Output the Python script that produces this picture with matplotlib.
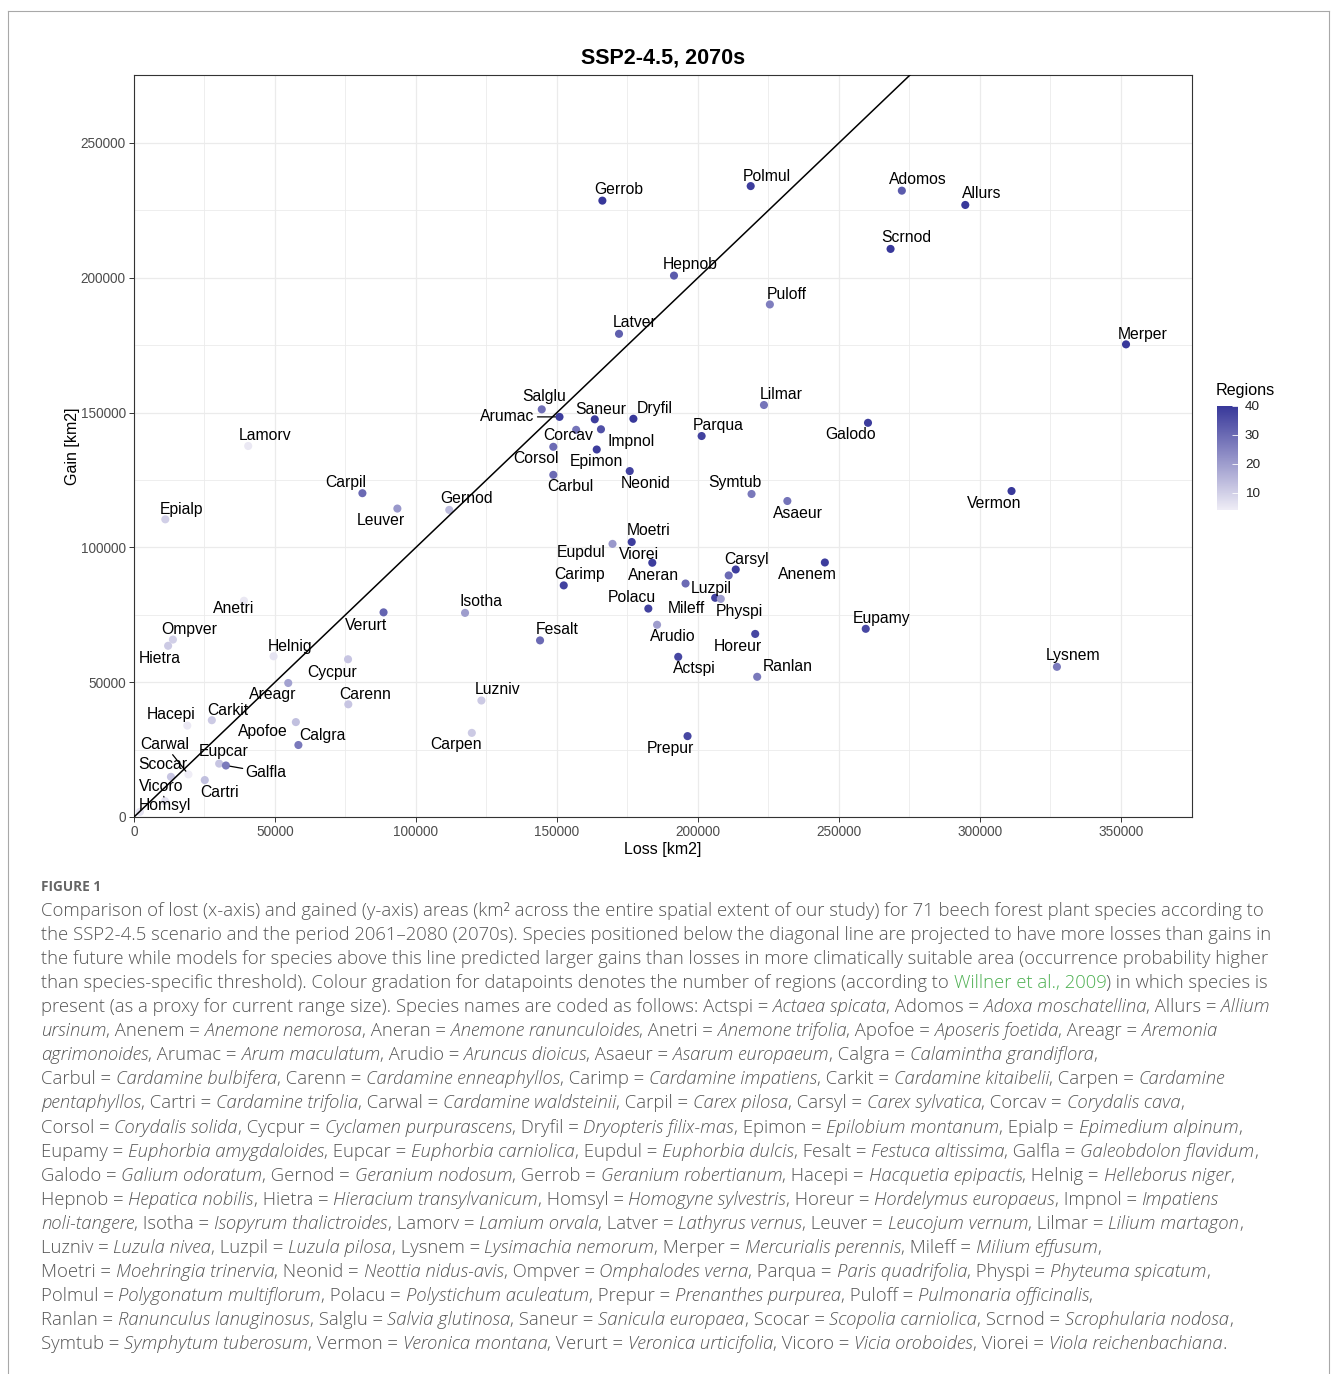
import matplotlib
matplotlib.use("Agg")
import matplotlib.pyplot as plt
import matplotlib.colors as mcolors
from matplotlib.lines import Line2D
import numpy as np

# ---- data (loss / gain in km2, regions = colour) ----
species = ["Actspi", "Adomos", "Allurs", "Anenem", "Aneran", "Anetri", "Apofoe", "Areagr",
           "Arumac", "Arudio", "Asaeur", "Calgra", "Carbul", "Carenn", "Carimp", "Carkit",
           "Carpen", "Cartri", "Carwal", "Carpil", "Carsyl", "Corcav", "Corsol", "Cycpur",
           "Dryfil", "Epimon", "Epialp", "Eupamy", "Eupcar", "Eupdul", "Fesalt", "Galfla",
           "Galodo", "Gernod", "Gerrob", "Hacepi", "Helnig", "Hepnob", "Hietra", "Homsyl",
           "Horeur", "Impnol", "Isotha", "Lamorv", "Latver", "Leuver", "Lilmar", "Luzniv",
           "Luzpil", "Lysnem", "Merper", "Mileff", "Moetri", "Neonid", "Ompver", "Parqua",
           "Physpi", "Polmul", "Polacu", "Prepur", "Puloff", "Ranlan", "Salglu", "Saneur",
           "Scocar", "Scrnod", "Symtub", "Vermon", "Verurt", "Vicoro", "Viorei"]

loss = [193000, 272300, 294800, 245000, 195600, 39000, 57400, 54700,
        150900, 185500, 231700, 58300, 148700, 76000, 152400, 27600,
        119800, 25100, 19300, 81000, 213400, 156800, 148700, 75900,
        177100, 164100, 11100, 259500, 30200, 169700, 144000, 32600,
        260300, 111800, 166100, 18900, 49500, 191500, 12100, 2100,
        220300, 165600, 117400, 40500, 172000, 93400, 223400, 123200,
        210900, 327300, 351800, 206100, 176500, 175800, 13800, 201300,
        208100, 218700, 182400, 196300, 225500, 221000, 144600, 163400,
        13100, 268300, 219000, 311200, 88500, 11000, 183800]

gain = [59400, 232300, 227000, 94400, 86600, 80200, 35200, 49700,
        148400, 71300, 117200, 26700, 126900, 41800, 85900, 35900,
        31200, 13700, 15800, 120100, 91800, 143600, 137300, 58500,
        147700, 136300, 110400, 69800, 19800, 101300, 65500, 19100,
        146200, 113900, 228600, 33900, 59600, 200800, 63500, 1900,
        67900, 143800, 75700, 137600, 179200, 114400, 152800, 43200,
        89600, 55700, 175300, 81300, 102000, 128300, 65800, 141300,
        80900, 234000, 77300, 30000, 190100, 52000, 151200, 147500,
        14900, 210700, 119800, 120900, 75900, 5900, 94300]

regions = [37, 33, 40, 39, 30, 5, 13, 19,
           39, 20, 28, 27, 30, 12, 38, 11,
           11, 13, 4, 30, 39, 28, 30, 12,
           40, 39, 10, 37, 12, 21, 30, 27,
           39, 14, 40, 5, 6, 33, 11, 6,
           37, 35, 20, 5, 32, 21, 28, 11,
           30, 27, 40, 38, 39, 38, 10, 38,
           20, 39, 38, 37, 26, 27, 29, 39,
           12, 40, 27, 40, 31, 6, 39]

x_ticks = [0, 50000, 100000, 150000, 200000, 250000, 300000, 350000]
y_ticks = [0, 50000, 100000, 150000, 200000, 250000]
legend_ticks = [10, 20, 30, 40]

# label placement (offset in pixels from point, like ggrepel) and leader lines
label_offsets = {
    "Actspi": (16, -12), "Adomos": (16, 11), "Allurs": (16, 11), "Anenem": (-17, -12),
    "Aneran": (-32, 8), "Anetri": (-10, -8), "Apofoe": (-33, -9), "Areagr": (-16, -12),
    "Arumac": (-52, 0), "Arudio": (16, -12), "Asaeur": (11, -12), "Calgra": (24, 10),
    "Carbul": (17, -12), "Carenn": (17, 10), "Carimp": (16, 11), "Carkit": (16, 10),
    "Carpen": (-16, -12), "Cartri": (15, -12), "Carwal": (-24, 30), "Carpil": (-17, 11),
    "Carsyl": (11, 10), "Corcav": (-8, -6), "Corsol": (-17, -12), "Cycpur": (-16, -13),
    "Dryfil": (21, 10), "Epimon": (0, -12), "Epialp": (16, 10), "Eupamy": (16, 10),
    "Eupcar": (5, 12), "Eupdul": (-31, -9), "Fesalt": (17, 11), "Galfla": (40, -7),
    "Galodo": (-17, -12), "Gernod": (17, 11), "Gerrob": (16, 11), "Hacepi": (-16, 11),
    "Helnig": (16, 10), "Hepnob": (16, 11), "Hietra": (-8, -13), "Homsyl": (25, 6),
    "Horeur": (-17, -13), "Impnol": (30, -12), "Isotha": (16, 11), "Lamorv": (17, 11),
    "Latver": (16, 11), "Leuver": (-16, -12), "Lilmar": (17, 11), "Luzniv": (16, 11),
    "Luzpil": (-17, -13), "Lysnem": (16, 11), "Merper": (17, 10), "Mileff": (-29, -11),
    "Moetri": (17, 11), "Neonid": (16, -12), "Ompver": (16, 10), "Parqua": (17, 11),
    "Physpi": (19, -13), "Polmul": (16, 10), "Polacu": (-17, 11), "Prepur": (-17, -12),
    "Puloff": (17, 10), "Ranlan": (31, 10), "Salglu": (2, 13), "Saneur": (6, 10),
    "Scocar": (-8, 12), "Scrnod": (16, 11), "Symtub": (-17, 11), "Vermon": (-17, -12),
    "Verurt": (-17, -13), "Vicoro": (-4, 15), "Viorei": (-13, 8),
}
with_segment = {"Arumac", "Galfla", "Carwal", "Vicoro"}

caption_lines = [
    "Comparison of lost (x-axis) and gained (y-axis) areas (km\u00b2 across the entire spatial extent of our study) for 71 beech forest plant species according to",
    "the SSP2-4.5 scenario and the period 2061\u20132080 (2070s). Species positioned below the diagonal line are projected to have more losses than gains in",
    "the future while models for species above this line predicted larger gains than losses in more climatically suitable area (occurrence probability higher",
    "than species-specific threshold). Colour gradation for datapoints denotes the number of regions (according to #Willner et al., 2009#) in which species is",
    "present (as a proxy for current range size). Species names are coded as follows: Actspi = *Actaea spicata*, Adomos = *Adoxa moschatellina*, Allurs = *Allium*",
    "*ursinum*, Anenem = *Anemone nemorosa*, Aneran = *Anemone ranunculoides*, Anetri = *Anemone trifolia*, Apofoe = *Aposeris foetida*, Areagr = *Aremonia*",
    "*agrimonoides*, Arumac = *Arum maculatum*, Arudio = *Aruncus dioicus*, Asaeur = *Asarum europaeum*, Calgra = *Calamintha grandiflora*,",
    "Carbul = *Cardamine bulbifera*, Carenn = *Cardamine enneaphyllos*, Carimp = *Cardamine impatiens*, Carkit = *Cardamine kitaibelii*, Carpen = *Cardamine*",
    "*pentaphyllos*, Cartri = *Cardamine trifolia*, Carwal = *Cardamine waldsteinii*, Carpil = *Carex pilosa*, Carsyl = *Carex sylvatica*, Corcav = *Corydalis cava*,",
    "Corsol = *Corydalis solida*, Cycpur = *Cyclamen purpurascens*, Dryfil = *Dryopteris filix-mas*, Epimon = *Epilobium montanum*, Epialp = *Epimedium alpinum*,",
    "Eupamy = *Euphorbia amygdaloides*, Eupcar = *Euphorbia carniolica*, Eupdul = *Euphorbia dulcis*, Fesalt = *Festuca altissima*, Galfla = *Galeobdolon flavidum*,",
    "Galodo = *Galium odoratum*, Gernod = *Geranium nodosum*, Gerrob = *Geranium robertianum*, Hacepi = *Hacquetia epipactis*, Helnig = *Helleborus niger*,",
    "Hepnob = *Hepatica nobilis*, Hietra = *Hieracium transylvanicum*, Homsyl = *Homogyne sylvestris*, Horeur = *Hordelymus europaeus*, Impnol = *Impatiens*",
    "*noli-tangere*, Isotha = *Isopyrum thalictroides*, Lamorv = *Lamium orvala*, Latver = *Lathyrus vernus*, Leuver = *Leucojum vernum*, Lilmar = *Lilium martagon*,",
    "Luzniv = *Luzula nivea*, Luzpil = *Luzula pilosa*, Lysnem = *Lysimachia nemorum*, Merper = *Mercurialis perennis*, Mileff = *Milium effusum*,",
    "Moetri = *Moehringia trinervia*, Neonid = *Neottia nidus-avis*, Ompver = *Omphalodes verna*, Parqua = *Paris quadrifolia*, Physpi = *Phyteuma spicatum*,",
    "Polmul = *Polygonatum multiflorum*, Polacu = *Polystichum aculeatum*, Prepur = *Prenanthes purpurea*, Puloff = *Pulmonaria officinalis*,",
    "Ranlan = *Ranunculus lanuginosus*, Salglu = *Salvia glutinosa*, Saneur = *Sanicula europaea*, Scocar = *Scopolia carniolica*, Scrnod = *Scrophularia nodosa*,",
    "Symtub = *Symphytum tuberosum*, Vermon = *Veronica montana*, Verurt = *Veronica urticifolia*, Vicoro = *Vicia oroboides*, Viorei = *Viola reichenbachiana*.",
]

plt.rcParams['font.family'] = ['Liberation Sans', 'DejaVu Sans']

W, H = 1331, 1374
fig = plt.figure(figsize=(W / 100, H / 100), dpi=100)
fig.patch.set_facecolor("white")


def fx(px):
    return px / W


def fy(py):
    return 1 - py / H


# outer frame of the figure panel
fig.add_artist(Line2D([fx(8), fx(1329)], [fy(10.5), fy(10.5)], color="#a8a8a8", lw=0.8))
fig.add_artist(Line2D([fx(8), fx(8)], [fy(10.5), 0], color="#a8a8a8", lw=0.8))
fig.add_artist(Line2D([fx(1329), fx(1329)], [fy(10.5), 0], color="#a8a8a8", lw=0.8))

# ---- main scatter ----
ax = fig.add_axes([fx(134), fy(817), fx(1192) - fx(134), fy(75) - fy(817)])
cmap = mcolors.LinearSegmentedColormap.from_list("reg", ["#EFEDF6", "#38389A"])
norm = mcolors.Normalize(vmin=min(regions), vmax=max(regions))

ax.set_xlim(0, 375200)
ax.set_ylim(0, 275200)
ax.set_xticks(x_ticks)
ax.set_yticks(y_ticks)
ax.set_xticks(np.arange(25000, 375000, 50000), minor=True)
ax.set_yticks(np.arange(25000, 275000, 50000), minor=True)
ax.set_xticklabels([str(v) for v in x_ticks])
ax.set_yticklabels([str(v) for v in y_ticks])
ax.grid(which="major", color="#EBEBEB", lw=0.9, zorder=0)
ax.grid(which="minor", color="#EBEBEB", lw=0.6, zorder=0)
ax.set_axisbelow(True)
ax.tick_params(which="major", length=3.5, width=0.7, color="#333333",
               labelsize=9.8, labelcolor="#4D4D4D", pad=2.5)
ax.tick_params(which="minor", length=0)
for sp in ax.spines.values():
    sp.set_color("#333333")
    sp.set_linewidth(0.8)

ax.scatter(loss, gain, c=regions, cmap=cmap, norm=norm, s=34, edgecolors="none", zorder=3)
ax.axline((0, 0), slope=1, color="black", lw=1.1, zorder=4)

for name, xv, yv in zip(species, loss, gain):
    dx, dy = label_offsets[name]
    arrow = None
    if name in with_segment:
        arrow = dict(arrowstyle="-", color="black", lw=0.9, shrinkA=0, shrinkB=3)
    ax.annotate(name, (xv, yv), xytext=(dx, dy), textcoords="offset pixels",
                ha="center", va="center", fontsize=11.3, color="black",
                arrowprops=arrow, zorder=5)

ax.set_title("SSP2-4.5, 2070s", fontsize=15.5, fontweight="bold", pad=8)
ax.set_xlabel("Loss [km2]", fontsize=11.5, labelpad=2)
ax.set_ylabel("Gain [km2]", fontsize=11.5, labelpad=0.5)

# ---- colour legend ----
cax = fig.add_axes([fx(1217), fy(510), fx(21), fy(406) - fy(510)])
sm = plt.cm.ScalarMappable(norm=norm, cmap=cmap)
cb = fig.colorbar(sm, cax=cax, ticks=legend_ticks)
cb.outline.set_visible(False)
cax.tick_params(length=4, width=0.6, color="white", direction="in",
                labelsize=9.7, labelcolor="#222222", pad=5)
fig.text(fx(1216), fy(391), "Regions", fontsize=11.6, ha="left", va="center")

# ---- caption ----
renderer = fig.canvas.get_renderer()
cap_font = "Open Sans"
cap_color = "#555555"


def text_width(s, size, style):
    t = fig.text(0, 0, "|" + s + "|", fontsize=size, fontstyle=style,
                 family=[cap_font, "DejaVu Sans"], fontweight="light")
    w = t.get_window_extent(renderer).width
    t.remove()
    t = fig.text(0, 0, "||", fontsize=size, fontstyle=style,
                 family=[cap_font, "DejaVu Sans"], fontweight="light")
    w0 = t.get_window_extent(renderer).width
    t.remove()
    return w - w0


def parse(line):
    segs = []
    italic, green = False, False
    buf = ""
    for ch in line:
        if ch in "*#":
            if buf:
                segs.append((buf, italic, green))
            buf = ""
            if ch == "*":
                italic = not italic
            else:
                green = not green
        else:
            buf += ch
    if buf:
        segs.append((buf, italic, green))
    return segs


# fit font size so the first caption line spans the same width as the original
probe = 12.0
cap_size = probe * 1226 / text_width(caption_lines[0].replace("*", "").replace("#", ""), probe, "normal")

fig.text(fx(41), fy(887), "FIGURE 1", fontsize=9.8, fontweight="bold", color="#666666",
         family=[cap_font, "DejaVu Sans"], ha="left", va="center")

for i, line in enumerate(caption_lines):
    base_y = 916 + 24.06 * i
    x = 41.0
    for seg, italic, green in parse(line):
        style = "italic" if italic else "normal"
        fig.text(fx(x), fy(base_y), seg, fontsize=cap_size, fontstyle=style,
                 fontweight="light", family=[cap_font, "DejaVu Sans"],
                 color="#4CAF50" if green else cap_color, ha="left", va="baseline")
        x += text_width(seg, cap_size, style)

fig.savefig("out.png", dpi=100, facecolor="white")
